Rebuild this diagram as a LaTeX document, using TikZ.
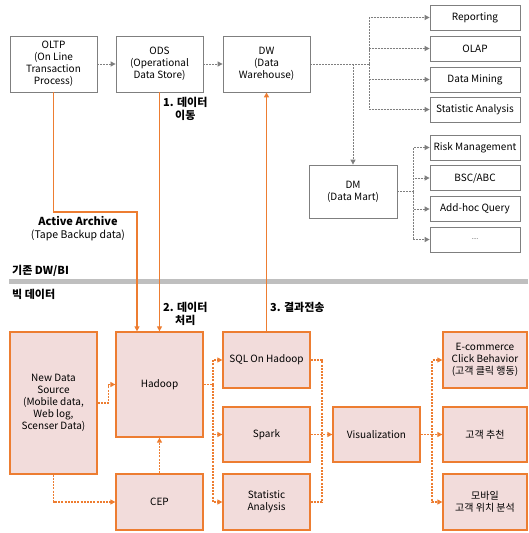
\documentclass[tikz,border=0pt]{standalone}
\usepackage{fontspec}
\setmainfont{Noto Sans CJK KR}
\usetikzlibrary{arrows.meta}
\definecolor{org}{HTML}{ED7D31}
\definecolor{pnk}{HTML}{F2DCDB}
\definecolor{gbd}{HTML}{7F7F7F}
\definecolor{sep}{HTML}{BFBFBF}
\tikzset{
  gbox/.style={draw=gbd, line width=0.8pt, fill=white, align=center, inner sep=1pt, font=\fontsize{10}{12}\selectfont},
  obox/.style={draw=org, line width=1.3pt, fill=pnk, align=center, inner sep=1pt, font=\fontsize{10}{12}\selectfont},
  gdash/.style={draw=gbd, line width=1pt, dash pattern=on 2pt off 1pt},
  odash/.style={draw=org, line width=1.2pt, dash pattern=on 2pt off 1.2pt},
  oline/.style={draw=org, line width=1.6pt},
  tip/.style={-{Triangle[length=5pt,width=5pt]}},
  lab/.style={font=\bfseries\fontsize{11}{13}\selectfont, align=center, inner sep=0pt},
}
\begin{document}
\begin{tikzpicture}[x=1pt,y=-1pt]
\useasboundingbox (0,0) rectangle (528,533);
% top row
\node[gbox, minimum width=87pt, minimum height=56pt] (oltp) at (53.5,64) {OLTP\\(On Line\\Transaction\\Process)};
\node[gbox, minimum width=87pt, minimum height=56pt] (ods) at (159.5,64) {ODS\\(Operational\\Data Store)};
\node[gbox, minimum width=87pt, minimum height=56pt] (dw) at (266.5,64) {DW\\(Data\\Warehouse)};
\node[gbox, minimum width=90pt, minimum height=25pt] (rep) at (475,17.5) {Reporting};
\node[gbox, minimum width=90pt, minimum height=25pt] (olap) at (475,48.5) {OLAP};
\node[gbox, minimum width=90pt, minimum height=25pt] (dmin) at (475,79.5) {Data Mining};
\node[gbox, minimum width=90pt, minimum height=25pt] (stat) at (475,109.5) {Statistic Analysis};
\node[gbox, minimum width=88pt, minimum height=53pt] (dm) at (353,191.5) {DM\\(Data Mart)};
\node[gbox, minimum width=90pt, minimum height=25pt] (risk) at (475,147.5) {Risk Management};
\node[gbox, minimum width=90pt, minimum height=25pt] (bsc) at (475,178) {BSC/ABC};
\node[gbox, minimum width=90pt, minimum height=25pt] (adh) at (475,209) {Add-hoc Query};
\node[gbox, minimum width=90pt, minimum height=25pt] (etc) at (475,239.5) {\fontsize{6}{7}\selectfont ....};
% gray dashed connectors
\draw[gdash, tip] (oltp.east) -- (ods.west);
\draw[gdash, tip] (ods.east) -- (dw.west);
\coordinate (t1) at (369,64);
\draw[gdash] (dw.east) -- (t1);
\draw[gdash, tip] (t1) |- (rep.west);
\draw[gdash, tip] (t1) |- (olap.west);
\draw[gdash, tip] (t1) |- (dmin.west);
\draw[gdash, tip] (t1) |- (stat.west);
\draw[gdash, tip] (dm.north |- dw.east) -- (dm.north);
\coordinate (t2) at (413,191.5);
\draw[gdash] (dm.east) -- (t2);
\draw[gdash, tip] (t2) |- (risk.west);
\draw[gdash, tip] (t2) |- (bsc.west);
\draw[gdash, tip] (t2) |- (adh.west);
\draw[gdash, tip] (t2) |- (etc.west);
% separator
\draw[sep, line width=5pt] (9,281.5) -- (528,281.5);
\node[lab, anchor=west] (old) at (12,271) {기존 DW/BI};
\node[lab, anchor=west] (big) at (12,294.5) {빅 데이터};
% bottom
\node[obox, minimum width=87pt, minimum height=142pt] (nds) at (53.5,403) {New Data\\Source\\(Mobile data,\\Web log,\\Scenser Data)};
\node[obox, minimum width=87pt, minimum height=105pt] (had) at (159.5,384.5) {Hadoop};
\node[obox, minimum width=87pt, minimum height=56pt] (cep) at (159.5,502) {CEP};
\node[obox, minimum width=87pt, minimum height=56pt] (sql) at (266.5,360) {SQL On Hadoop};
\node[obox, minimum width=87pt, minimum height=55pt] (spark) at (266.5,434.5) {Spark};
\node[obox, minimum width=87pt, minimum height=56pt] (st2) at (266.5,502) {Statistic\\Analysis};
\node[obox, minimum width=87pt, minimum height=55pt] (vis) at (376.5,434.5) {Visualization};
\node[obox, minimum width=84pt, minimum height=56pt] (eco) at (485,360) {E-commerce\\Click Behavior\\(고객 클릭 행동)};
\node[obox, minimum width=84pt, minimum height=55pt] (rec) at (485,434.5) {고객 추천};
\node[obox, minimum width=84pt, minimum height=56pt] (mob) at (485,502) {모바일\\고객 위치 분석};
% orange solid
\coordinate (aa) at (137,212);
\draw[oline, tip] (oltp.south) |- (aa) -- (aa |- had.north);
\draw[oline, tip] (ods.south) -- (had.north);
\draw[oline, tip] (sql.north) -- (dw.south);
\node[lab, anchor=north west] (l1) at (163,97) {1. 데이터\\이동};
\node[lab] (arc) at (78,221) {Active Archive};
\node[inner sep=0pt, font=\fontsize{10.5}{12}\selectfont] (tape) at (78,235) {(Tape Backup data)};
\node[lab, anchor=north west] (l2) at (163,302) {2. 데이터\\처리};
\node[lab, anchor=north west] (l3) at (270,302) {3. 결과전송};
% orange dashed
\draw[odash, tip] (nds.east) -- ++(11,0) |- (had.west);
\draw[odash, tip] (nds.south) |- (cep.west);
\draw[odash, tip] (cep.north) -- (had.south);
\coordinate (t3) at (213,384.5);
\draw[odash] (had.east) -- (t3);
\draw[odash, tip] (t3) |- (sql.west);
\draw[odash, tip] (t3) |- (spark.west);
\draw[odash, tip] (t3) |- (st2.west);
\coordinate (t4) at (322,434.5);
\draw[odash] (sql.east) -| (t4);
\draw[odash] (st2.east) -| (t4);
\draw[odash, tip] (spark.east) -- (vis.west);
\coordinate (t5) at (432,434.5);
\draw[odash, tip] (vis.east) -- (t5) |- (eco.west);
\draw[odash, tip] (t5) -- (rec.west);
\draw[odash, tip] (t5) |- (mob.west);
\end{tikzpicture}
\end{document}
